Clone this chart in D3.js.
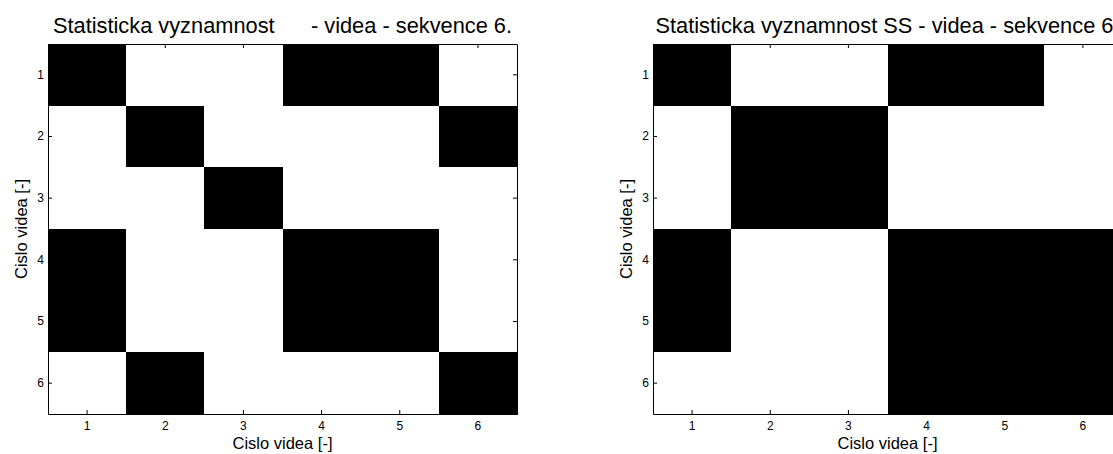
<!DOCTYPE html>
<html><head><meta charset="utf-8">
<script src="https://cdn.jsdelivr.net/npm/d3@7"></script>
<style>
body{margin:0;background:#fff;overflow:hidden}
text{font-family:"Liberation Sans",Arial,Helvetica,sans-serif;fill:#000}
</style>
</head><body>
<svg id="c" width="1113" height="454"></svg>
<script>
// ---- data ----
const videos = [1, 2, 3, 4, 5, 6];
const tickLabels = ["1", "2", "3", "4", "5", "6"];
const titles = [
  "Statisticka vyznamnost      - videa - sekvence 6.",
  "Statisticka vyznamnost SS - videa - sekvence 6."
];
const xLabel = "Cislo videa [-]";
const yLabel = "Cislo videa [-]";
// 1 = significant (black), 0 = not (white); rows = y (top to bottom), cols = x
const significanceAll = [
  [1, 0, 0, 1, 1, 0],
  [0, 1, 0, 0, 0, 1],
  [0, 0, 1, 0, 0, 0],
  [1, 0, 0, 1, 1, 0],
  [1, 0, 0, 1, 1, 0],
  [0, 1, 0, 0, 0, 1]
];
const significanceSS = [
  [1, 0, 0, 1, 1, 0],
  [0, 1, 1, 0, 0, 0],
  [0, 1, 1, 0, 0, 0],
  [1, 0, 0, 1, 1, 1],
  [1, 0, 0, 1, 1, 1],
  [0, 0, 0, 1, 1, 1]
];
const matrices = [significanceAll, significanceSS];

// ---- layout ----
const svg = d3.select("#c");
const panelLefts = [48, 653];
const plotW = 469, plotTop = 44, plotBottom = 414;

matrices.forEach((m, pi) => {
  const left = panelLefts[pi];
  const x = d3.scaleBand().domain(videos).range([left, left + plotW]);
  const y = d3.scaleBand().domain(videos).range([plotTop, plotBottom]);
  const g = svg.append("g");

  const cells = [];
  m.forEach((row, ri) => row.forEach((v, ci) => cells.push({r: videos[ri], c: videos[ci], v})));
  g.selectAll("rect.cell").data(cells).join("rect")
    .attr("class", "cell")
    .attr("x", d => x(d.c)).attr("y", d => y(d.r))
    .attr("width", x.bandwidth() + 0.6).attr("height", y.bandwidth() + 0.6)
    .attr("shape-rendering", "crispEdges")
    .attr("fill", d => d.v ? "#000" : "#fff");

  const fmt = (d, i) => tickLabels[i];
  const styleAxis = sel => {
    sel.selectAll("path.domain").attr("stroke", "#000").attr("stroke-width", 1);
    sel.selectAll(".tick line").attr("stroke", "#000").attr("stroke-width", 1);
    sel.selectAll("text").attr("font-size", 12).style("font-family", '"Liberation Sans",Arial,sans-serif').attr("fill", "#000");
  };

  g.append("g").attr("transform", `translate(0,${plotBottom})`)
    .call(d3.axisBottom(x).tickSizeInner(-4).tickSizeOuter(0).tickPadding(7).tickFormat(fmt))
    .call(styleAxis);
  g.append("g").attr("transform", `translate(0,${plotTop})`)
    .call(d3.axisTop(x).tickSizeInner(-4).tickSizeOuter(0).tickFormat(""))
    .call(styleAxis);
  g.append("g").attr("transform", `translate(${left},0)`)
    .call(d3.axisLeft(y).tickSizeInner(-4).tickSizeOuter(0).tickPadding(4).tickFormat(fmt))
    .call(styleAxis);
  g.append("g").attr("transform", `translate(${left + plotW},0)`)
    .call(d3.axisRight(y).tickSizeInner(-4).tickSizeOuter(0).tickFormat(""))
    .call(styleAxis);

  g.append("text")
    .attr("x", left + plotW / 2).attr("y", 33)
    .attr("text-anchor", "middle").attr("font-size", 21.8)
    .style("white-space", "pre")
    .text(titles[pi]);

  g.append("text")
    .attr("x", left + plotW / 2).attr("y", 449)
    .attr("text-anchor", "middle").attr("font-size", 16.5)
    .text(xLabel);

  g.append("text")
    .attr("transform", `translate(${left - 21},${(plotTop + plotBottom) / 2}) rotate(-90)`)
    .attr("text-anchor", "middle").attr("font-size", 16.5)
    .text(yLabel);
});
</script>
</body></html>
